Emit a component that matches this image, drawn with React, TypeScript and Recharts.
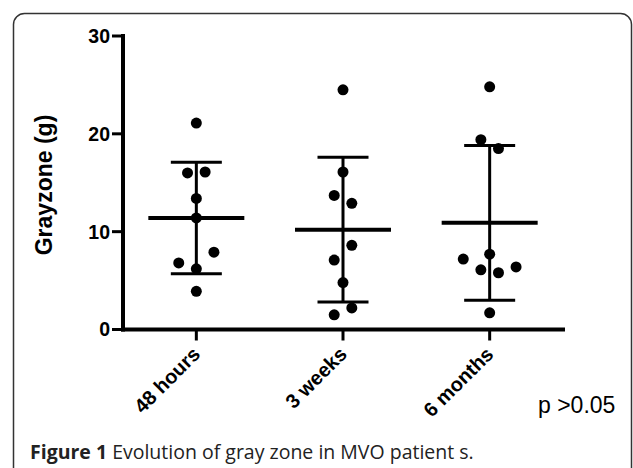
import { ScatterChart, Scatter, XAxis, YAxis, ErrorBar } from 'recharts';

// groups on the x axis
const categories = ['48 hours', '3 weeks', '6 months'];

// individual patients, with the small horizontal spread of the dot plot
const hours48 = [21.1, 16.0, 16.1, 13.4, 11.4, 7.9, 6.8, 6.2, 3.9];
const hours48Spread = [0, -0.06, 0.06, 0, 0, 0.12, -0.12, 0, 0];
const weeks3 = [24.5, 16.1, 13.7, 12.9, 8.6, 7.1, 4.8, 2.2, 1.5];
const weeks3Spread = [0, 0, -0.06, 0.06, 0.06, -0.06, 0, 0.06, -0.06];
const months6 = [24.8, 19.4, 18.5, 7.7, 7.2, 6.1, 5.8, 6.4, 1.7];
const months6Spread = [0, -0.06, 0.06, 0, -0.18, -0.06, 0.06, 0.18, 0];

// mean and SD per group
const means = [11.4, 10.2, 10.9];
const sds = [5.7, 7.4, 7.9];

const yTicks = [0, 10, 20, 30];

const groups = [
  { values: hours48, spread: hours48Spread },
  { values: weeks3, spread: weeks3Spread },
  { values: months6, spread: months6Spread },
];

const points = groups.flatMap((g, gi) =>
  g.values.map((v, i) => ({ x: gi + g.spread[i], y: v }))
);
const meanData = means.map((m, i) => ({ x: i, y: m, sd: sds[i] }));

const FONT = '"Liberation Sans", Arial, sans-serif';

const Dot = (props: any) => <circle cx={props.cx} cy={props.cy} r={5.5} fill="#000" />;

const MeanLine = (props: any) => (
  <line x1={props.cx - 48} x2={props.cx + 48} y1={props.cy} y2={props.cy} stroke="#000" strokeWidth={4} />
);

const XTick = (props: any) => {
  const { x, y, payload } = props;
  const tx = x + 5;
  const ty = y + 13;
  return (
    <text
      x={tx}
      y={ty}
      textAnchor="end"
      transform={`rotate(-45, ${tx}, ${ty})`}
      fontFamily={FONT}
      fontWeight="bold"
      fontSize={20}
      fill="#000"
    >
      {categories[payload.value]}
    </text>
  );
};

const App = () => {
  return (
    <div style={{ position: 'absolute', left: 0, top: 0, width: 633, height: 468, background: '#fff' }}>
      <ScatterChart width={633} height={468} margin={{ top: 36, right: 70, left: 63, bottom: 98.5 }}>
        <XAxis
          type="number"
          dataKey="x"
          domain={[-0.5, 2.5]}
          ticks={[0, 1, 2]}
          interval={0}
          height={40}
          tickSize={11}
          axisLine={{ stroke: '#000', strokeWidth: 4, strokeLinecap: 'square' }}
          tickLine={{ stroke: '#000', strokeWidth: 3 }}
          tick={<XTick />}
        />
        <YAxis
          type="number"
          dataKey="y"
          domain={[0, 30]}
          ticks={yTicks}
          interval={0}
          width={60}
          tickSize={11}
          axisLine={{ stroke: '#000', strokeWidth: 4, strokeLinecap: 'square' }}
          tickLine={{ stroke: '#000', strokeWidth: 3 }}
          tick={{ fill: '#000', fontSize: 19.5, fontWeight: 'bold', fontFamily: FONT }}
        />
        <Scatter data={meanData} shape={<MeanLine />} isAnimationActive={false}>
          <ErrorBar dataKey="sd" direction="y" width={25.5} stroke="#000" strokeWidth={3} isAnimationActive={false} />
        </Scatter>
        <Scatter data={points} shape={<Dot />} isAnimationActive={false} />
      </ScatterChart>

      <svg
        width={633}
        height={468}
        style={{ position: 'absolute', left: 0, top: 0, pointerEvents: 'none' }}
      >
        <rect x={13.5} y={13.5} width={618} height={470} rx={11} fill="none" stroke="#333" strokeWidth={1.5} />
        <text
          x={52}
          y={185}
          transform="rotate(-90, 52, 185)"
          textAnchor="middle"
          fontFamily={FONT}
          fontWeight="bold"
          fontSize={23}
          fill="#000"
        >
          Grayzone (g)
        </text>
        <text x={538} y={413} fontFamily={FONT} fontSize={23} fill="#000">
          p &gt;0.05
        </text>
        <text x={30} y={459} fontFamily='"Open Sans", "Noto Sans", sans-serif' fontSize={19.5} fill="#222">
          <tspan fontWeight="bold">Figure 1</tspan> Evolution of gray zone in MVO patient s.
        </text>
      </svg>
    </div>
  );
};

export default App;
